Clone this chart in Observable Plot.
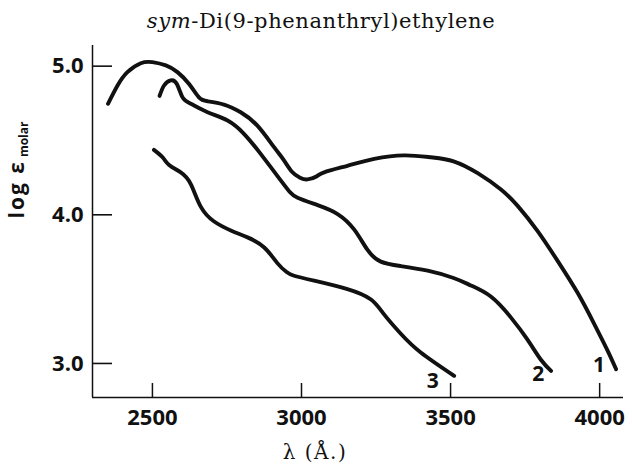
<!DOCTYPE html>
<html>
<head>
<meta charset="utf-8">
<script src="https://cdn.jsdelivr.net/npm/d3@7"></script>
<script src="https://cdn.jsdelivr.net/npm/@observablehq/plot@0.6"></script>
<style>
  body { margin: 0; background: #fff; }
  #chart svg { display: block; }
</style>
</head>
<body>
<div id="chart"></div>
<script>
// ---- data ----
const titleText = "sym-Di(9-phenanthryl)ethylene";
const xLabel = "λ (Å.)";
const yLabel = "log ε molar";

const xTicks = [2500, 3000, 3500, 4000];
const yTicks = [3.0, 4.0, 5.0];

// curve 1
const lambda1 = [2351, 2383, 2416, 2461, 2500, 2545, 2584, 2623, 2656, 2685, 2740, 2796, 2852, 2908, 2940, 2968, 2995, 3020, 3050, 3076, 3154, 3244, 3344, 3434, 3510, 3591, 3669, 3725, 3792, 3859, 3926, 3982, 4027, 4055];
const logEps1 = [4.747, 4.87, 4.96, 5.02, 5.027, 5.005, 4.96, 4.88, 4.79, 4.764, 4.742, 4.69, 4.60, 4.455, 4.37, 4.29, 4.25, 4.238, 4.258, 4.286, 4.33, 4.376, 4.40, 4.387, 4.36, 4.28, 4.17, 4.06, 3.89, 3.69, 3.475, 3.265, 3.085, 2.962];
// curve 2
const lambda2 = [2524, 2539, 2561, 2582, 2601, 2629, 2685, 2752, 2807, 2863, 2931, 2960, 2987, 3054, 3121, 3177, 3221, 3266, 3333, 3423, 3510, 3568, 3635, 3702, 3758, 3803, 3837];
const logEps2 = [4.80, 4.87, 4.904, 4.88, 4.79, 4.747, 4.69, 4.634, 4.545, 4.41, 4.23, 4.155, 4.115, 4.065, 4.005, 3.9, 3.765, 3.685, 3.655, 3.624, 3.575, 3.525, 3.45, 3.31, 3.16, 3.025, 2.95];
// curve 3
const lambda3 = [2505, 2534, 2556, 2595, 2629, 2662, 2707, 2763, 2819, 2875, 2919, 2950, 2975, 3042, 3154, 3233, 3277, 3333, 3400, 3512];
const logEps3 = [4.437, 4.387, 4.335, 4.285, 4.205, 4.055, 3.955, 3.895, 3.848, 3.78, 3.675, 3.615, 3.59, 3.557, 3.50, 3.43, 3.33, 3.2, 3.074, 2.917];

const curveNames = ["1", "2", "3"];
const curveLabelX = [3998, 3794, 3440];
const curveLabelY = [2.99, 2.93, 2.877];

const xDomain = [2299, 4080];
const yDomain = [2.771, 5.139];

// ---- build tables ----
const series = [
  {name: "1", xs: lambda1, ys: logEps1},
  {name: "2", xs: lambda2, ys: logEps2},
  {name: "3", xs: lambda3, ys: logEps3}
];
const points = series.flatMap(s => s.xs.map((x, i) => ({curve: s.name, lambda: x, logEps: s.ys[i]})));
const labels = curveNames.map((n, i) => ({name: n, x: curveLabelX[i], y: curveLabelY[i]}));

const tickFont = "'Open Sans', 'DejaVu Sans', sans-serif";
const ink = "#111";
const W = 632, H = 470, ML = 92, MR = 9, MT = 45, MB = 73;
// tick lengths (pixels) expressed in data units
const xPerPx = (xDomain[1] - xDomain[0]) / (W - ML - MR);
const yPerPx = (yDomain[1] - yDomain[0]) / (H - MT - MB);
const xTickLen = 14 * yPerPx;
const yTickLen = 20 * xPerPx;

const plot = Plot.plot({
  width: W,
  height: H,
  marginLeft: ML,
  marginRight: MR,
  marginTop: MT,
  marginBottom: MB,
  style: {background: "#fff", color: ink, overflow: "visible"},
  x: {domain: xDomain},
  y: {domain: yDomain},
  marks: [
    Plot.ruleX([xDomain[0]], {stroke: ink, strokeWidth: 1.5}),
    Plot.ruleY([yDomain[0]], {stroke: ink, strokeWidth: 1.5}),
    // inward ticks
    Plot.ruleX(xTicks, {x: d => d, y1: yDomain[0], y2: yDomain[0] + xTickLen, stroke: ink, strokeWidth: 1.5}),
    Plot.ruleY(yTicks, {y: d => d, x1: xDomain[0], x2: xDomain[0] + yTickLen, stroke: ink, strokeWidth: 1.6}),
    // tick labels
    Plot.axisY(yTicks, {tickSize: 0, tickPadding: 9, tickFormat: d3.format(".1f"), fontSize: 22, fontWeight: "bold", fontFamily: tickFont, label: null}),
    Plot.axisX(xTicks, {tickSize: 0, tickPadding: 12, tickFormat: d => String(d), fontSize: 22, fontWeight: "bold", fontFamily: tickFont, label: null}),
    // curves
    Plot.line(points, {x: "lambda", y: "logEps", z: "curve", stroke: ink, strokeWidth: 3.9, curve: "natural", strokeLinecap: "round"}),
    // curve labels
    Plot.text(labels, {x: "x", y: "y", text: "name", fontSize: 21, fontWeight: "bold", fontFamily: tickFont, fill: ink}),
    // titles
    Plot.text([titleText], {frameAnchor: "top", dx: -37, dy: -18, lineAnchor: "bottom", fontSize: 21, fontFamily: "'DejaVu Serif', serif", fill: ink}),
    Plot.text([xLabel], {frameAnchor: "bottom", dx: -43, dy: 61, fontSize: 20, fontFamily: "'DejaVu Serif', serif", fill: ink}),
    Plot.text([yLabel], {frameAnchor: "left", dx: -75, dy: -3, rotate: -90, fontSize: 21, fontWeight: "bold", fontFamily: tickFont, fill: ink})
  ]
});

// rich text: italic "sym", subscript "molar"
plot.querySelectorAll("text").forEach(t => {
  if (t.textContent === titleText) {
    t.textContent = "";
    const a = document.createElementNS("http://www.w3.org/2000/svg", "tspan");
    a.setAttribute("font-style", "italic");
    a.textContent = "sym";
    const b = document.createElementNS("http://www.w3.org/2000/svg", "tspan");
    b.textContent = "-Di(9-phenanthryl)ethylene";
    t.appendChild(a); t.appendChild(b);
    t.setAttribute("letter-spacing", "0.6");
  } else if (t.textContent === yLabel) {
    t.textContent = "";
    const a = document.createElementNS("http://www.w3.org/2000/svg", "tspan");
    a.textContent = "log ε";
    a.setAttribute("letter-spacing", "2");
    const b = document.createElementNS("http://www.w3.org/2000/svg", "tspan");
    b.textContent = "molar";
    b.setAttribute("font-size", "12");
    b.setAttribute("dx", "3");
    b.setAttribute("dy", "4");
    t.appendChild(a); t.appendChild(b);
  } else if (t.textContent === xLabel) {
    t.setAttribute("letter-spacing", "1.5");
  }
});

document.getElementById("chart").appendChild(plot);
</script>
</body>
</html>
